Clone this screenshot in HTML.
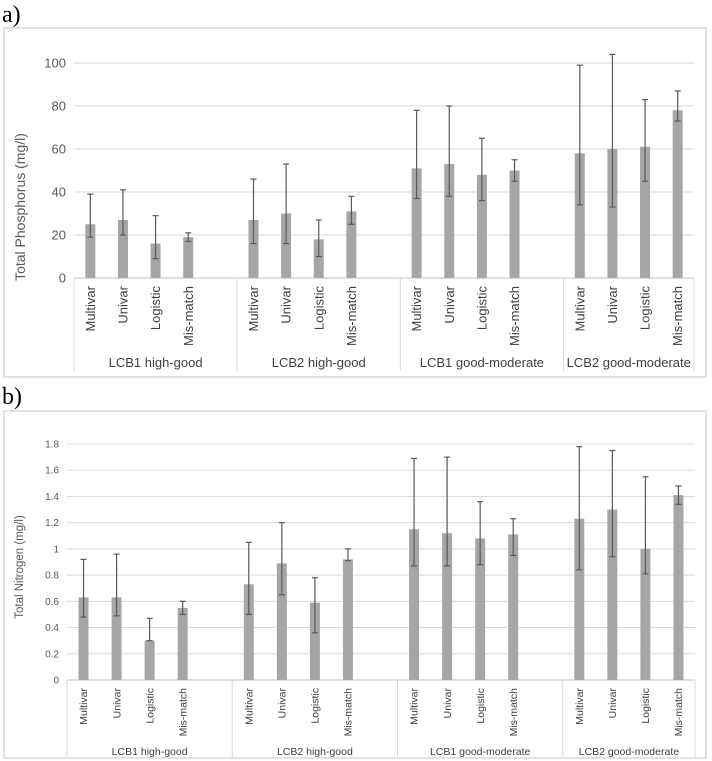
<!DOCTYPE html>
<html><head><meta charset="utf-8"><style>
html,body{margin:0;padding:0;background:#fff;width:712px;height:761px;overflow:hidden}
svg{display:block}
</style></head><body>
<svg id="svg" width="712" height="761" xmlns="http://www.w3.org/2000/svg" font-family="Liberation Sans, sans-serif"></svg>
<script>
const groups = ["LCB1 high-good","LCB2 high-good","LCB1 good-moderate","LCB2 good-moderate"];
const methods = ["Multivar","Univar","Logistic","Mis-match"];
const pVals = [25,27,16,19, 27,30,18,31, 51,53,48,50, 58,60,61,78];
const pLow  = [19,20,9,17, 16,16,10,25, 37,38,36,45, 34,33,45,73];
const pHigh = [39,41,29,21, 46,53,27,38, 78,80,65,55, 99,104,83,87];
const pTicks = [0,20,40,60,80,100];
const nVals = [0.63,0.63,0.30,0.55, 0.73,0.89,0.59,0.92, 1.15,1.12,1.08,1.11, 1.23,1.30,1.00,1.41];
const nLow  = [0.48,0.49,0.30,0.50, 0.50,0.65,0.36,0.91, 0.87,0.87,0.88,0.95, 0.84,0.94,0.81,1.34];
const nHigh = [0.92,0.96,0.47,0.60, 1.05,1.20,0.78,1.00, 1.69,1.70,1.36,1.23, 1.78,1.75,1.55,1.48];
const nTicks = [0,0.2,0.4,0.6,0.8,1,1.2,1.4,1.6,1.8];

const svg = document.getElementById('svg');
const NS = "http://www.w3.org/2000/svg";
function mk(tag, attrs, parent, text){
  const e = document.createElementNS(NS, tag);
  for (const k in attrs) e.setAttribute(k, attrs[k]);
  if (text !== undefined) e.textContent = text;
  (parent||svg).appendChild(e);
  return e;
}

function chart(cfg){
  const g = mk('g', {});
  
  
  const fr = mk('rect', {x:cfg.fx, y:cfg.fy, width:cfg.fw, height:cfg.fh, fill:'none', stroke:'#d9d9d9', 'stroke-width':1.5}, g);
  
  
  const pl = mk('text', {x:cfg.lx, y:cfg.ly, 'font-family':'Liberation Serif, serif', 'font-size':24, fill:'#000'}, g, cfg.label);
  
  
  const yv = v => cfg.y0 - (v - cfg.min) / (cfg.max - cfg.min) * (cfg.y0 - cfg.yTop);
  const slot = (cfg.x1 - cfg.x0) / 19;
  cfg.ticks.forEach(t => {
    const y = yv(t);
    const gl = mk('line', {x1:cfg.x0, x2:cfg.x1, y1:y, y2:y, stroke: t===0?'#bfbfbf':'#d9d9d9', 'stroke-width':1}, g);
    
    
    const tl = mk('text', {x:cfg.x0 - 8, y:y + cfg.tfs*0.35, 'text-anchor':'end', 'font-size':cfg.tfs, fill:'#595959'}, g, String(t));
    
    
  });
  const yt = mk('text', {transform:`translate(${cfg.ytx},${cfg.yty}) rotate(-90)`, 'text-anchor':'middle', 'font-size':cfg.yfs, fill:'#595959', 'xml:space':'preserve'}, g, cfg.ytitle);
  
  
  // category separators
  const seps = [0,5,10,15,19];
  seps.forEach(s => {
    const x = cfg.x0 + s * slot;
    const l = mk('line', {x1:x, x2:x, y1:cfg.y0, y2:cfg.sepBottom, stroke:'#d9d9d9', 'stroke-width':1}, g);
    
    
  });
  groups.forEach((gn, gi) => {
    const xa = cfg.x0 + seps[gi] * slot, xb = cfg.x0 + seps[gi+1] * slot;
    const t = mk('text', {x:(xa+xb)/2, y:cfg.gy, 'text-anchor':'middle', 'font-size':cfg.gfs, fill:'#404040'}, g, gn);
    
    
  });
  cfg.vals.forEach((v, i) => {
    const gi = Math.floor(i/4), mi = i % 4;
    const cx = cfg.x0 + (gi*5 + mi + 0.5) * slot;
    const b = mk('rect', {x:cx - cfg.bw/2, y:yv(v), width:cfg.bw, height:cfg.y0 - yv(v), fill:'#a6a6a6'}, g);
    
    
    const eg = mk('g', {stroke:'#595959', 'stroke-width':1.2}, g);
    
    
    const yl = yv(cfg.lo[i]), yh = yv(cfg.hi[i]);
    mk('line', {x1:cx, x2:cx, y1:yl, y2:yh}, eg);
    mk('line', {x1:cx-3, x2:cx+3, y1:yh, y2:yh}, eg);
    mk('line', {x1:cx-3, x2:cx+3, y1:yl, y2:yl}, eg);
    const ml = mk('text', {transform:`translate(${cx + cfg.mfs*0.35},${cfg.my}) rotate(-90)`, 'text-anchor':'end', 'font-size':cfg.mfs, fill:'#404040'}, g, methods[mi]);
    
    
  });
}

chart({name:'phosphorus-chart', label:'a)', lx:2, ly:22, fx:4, fy:28, fw:702, fh:349,
  x0:74, x1:694, y0:278, yTop:63, min:0, max:100, ticks:pTicks, vals:pVals, lo:pLow, hi:pHigh,
  tfs:13, ytitle:'Total  Phosphorus  (mg/l)', ytx:25, yty:207, yfs:14, bw:10,
  sepBottom:371, gy:367, gfs:13, my:286, mfs:13});
chart({name:'nitrogen-chart', label:'b)', lx:2, ly:404, fx:4, fy:411, fw:702, fh:347,
  x0:67, x1:695, y0:680, yTop:444, min:0, max:1.8, ticks:nTicks, vals:nVals, lo:nLow, hi:nHigh,
  tfs:10, ytitle:'Total Nitrogen (mg/l)', ytx:23, yty:567, yfs:11.5, bw:10,
  sepBottom:758, gy:755, gfs:10.5, my:688, mfs:10.5});
</script>
</body></html>
